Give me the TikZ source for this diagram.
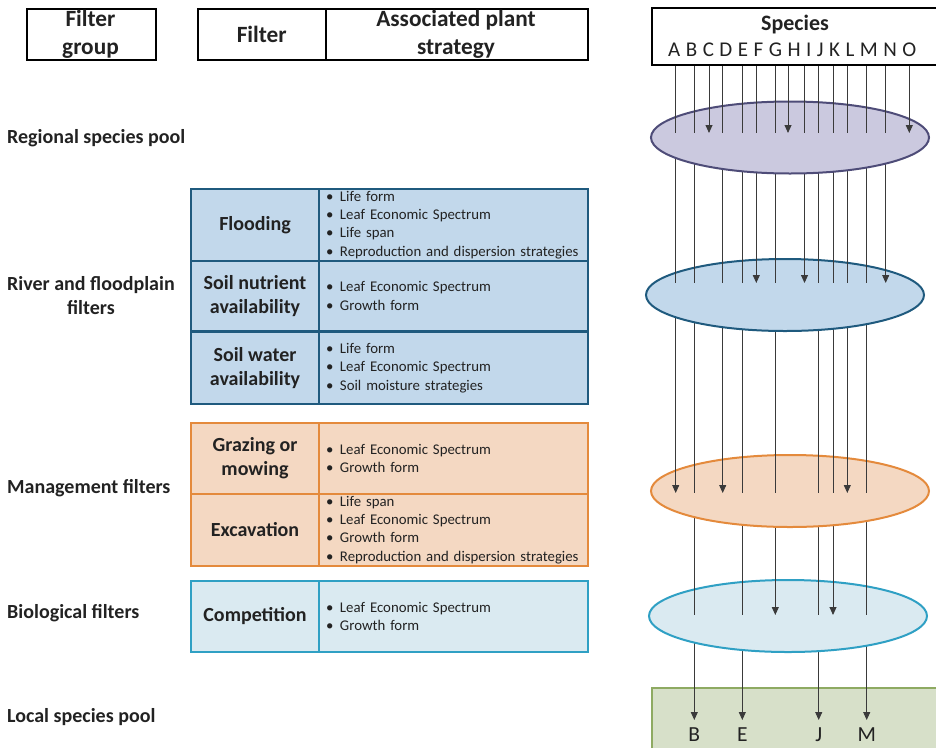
\documentclass[tikz,border=0pt]{standalone}
\usepackage{fontspec}
\setmainfont{Carlito}
\usetikzlibrary{shapes.geometric,arrows.meta}

\definecolor{rivfill}{HTML}{C2D8EB}
\definecolor{rivline}{HTML}{1F5A7E}
\definecolor{mgtfill}{HTML}{F4D8C2}
\definecolor{mgtline}{HTML}{E48A3C}
\definecolor{biofill}{HTML}{DAEAF1}
\definecolor{bioline}{HTML}{2FA0C4}
\definecolor{regfill}{HTML}{CBC9DF}
\definecolor{regline}{HTML}{4E4C78}
\definecolor{locfill}{HTML}{D7E0C9}
\definecolor{locline}{HTML}{8EAA62}
\definecolor{flow}{HTML}{3A3A3A}
\definecolor{txt}{HTML}{222222}

\newcommand\bl[1]{\makebox[14pt][l]{•}#1}

\tikzset{
  hdrbox/.style={draw=black, line width=1.5pt, rectangle, anchor=north west, inner sep=0pt},
  hdrtxt/.style={font=\bfseries\fontsize{23.3pt}{28pt}\selectfont, align=center, inner sep=0pt, text=txt},
  grouplbl/.style={font=\bfseries\fontsize{20pt}{24pt}\selectfont, align=center, anchor=west, inner sep=0pt, text=txt},
  namecell/.style={rectangle, line width=2pt, anchor=north west, minimum width=128pt,
    font=\bfseries\fontsize{20pt}{24pt}\selectfont, align=center, inner sep=0pt, text=txt},
  listcell/.style={rectangle, line width=2pt, anchor=north west, minimum width=269pt,
    text width=255pt, inner xsep=7pt, inner ysep=0pt,
    font=\fontsize{14.8pt}{18.3pt}\selectfont, align=left, text=txt},
  riv/.style={fill=rivfill, draw=rivline},
  mgt/.style={fill=mgtfill, draw=mgtline},
  bio/.style={fill=biofill, draw=bioline},
  pool/.style={ellipse, line width=2pt, minimum width=278pt, minimum height=72pt, inner sep=0pt},
  flowline/.style={draw=flow, line width=0.9pt},
  flowarrow/.style={draw=flow, line width=0.9pt, -{Triangle[length=8pt,width=7pt]}},
  letter/.style={font=\fontsize{21.5pt}{26pt}\selectfont, inner sep=0pt, anchor=base, text=txt}
}

\begin{document}
\begin{tikzpicture}[x=1pt,y=-1pt]
\useasboundingbox (0,0) rectangle (936,747);

% column headers
\node[hdrbox, minimum width=129pt, minimum height=51pt] (hgroup) at (26,8) {};
\node[hdrtxt] (hgrouptxt) at (90.5,34) {Filter\\group};
\node[hdrbox, minimum width=128pt, minimum height=51pt] (hfilter) at (197,8) {};
\node[hdrtxt] (hfiltertxt) at (hfilter.center) {Filter};
\node[hdrbox, minimum width=262pt, minimum height=51pt] (hstrat) at (325,8) {};
\node[hdrtxt] (hstrattxt) at (456,34) {Associated plant\\strategy};

% filter group labels
\node[grouplbl] (lreg) at (7,138) {Regional species pool};
\node[grouplbl] (lriv) at (7,296) {River and floodplain\\filters};
\node[grouplbl] (lmgt) at (7,488) {Management filters};
\node[grouplbl] (lbio) at (7,613) {Biological filters};
\node[grouplbl] (lloc) at (7,717) {Local species pool};

% river and floodplain filters
\node[namecell, riv, minimum height=72pt] (flood) at (190,188) {Flooding};
\node[listcell, riv, minimum height=72pt] (floodl) at (318,188)
  {\bl{Life form}\\\bl{Leaf Economic Spectrum}\\\bl{Life span}\\\bl{Reproduction and dispersion strategies}};
\node[namecell, riv, minimum height=70pt] (nutr) at (190,260) {Soil nutrient\\availability};
\node[listcell, riv, minimum height=70pt] (nutrl) at (318,260)
  {\bl{Leaf Economic Spectrum}\\\bl{Growth form}};
\node[namecell, riv, minimum height=72pt] (water) at (190,331) {Soil water\\availability};
\node[listcell, riv, minimum height=72pt] (waterl) at (318,331)
  {\bl{Life form}\\\bl{Leaf Economic Spectrum}\\\bl{Soil moisture strategies}};

% management filters
\node[namecell, mgt, minimum height=71pt] (graze) at (190,422) {Grazing or\\mowing};
\node[listcell, mgt, minimum height=71pt] (grazel) at (318,422)
  {\bl{Leaf Economic Spectrum}\\\bl{Growth form}};
\node[namecell, mgt, minimum height=72pt] (excav) at (190,493) {Excavation};
\node[listcell, mgt, minimum height=72pt] (excavl) at (318,493)
  {\bl{Life span}\\\bl{Leaf Economic Spectrum}\\\bl{Growth form}\\\bl{Reproduction and dispersion strategies}};

% biological filters
\node[namecell, bio, minimum height=71pt] (comp) at (190,580) {Competition};
\node[listcell, bio, minimum height=71pt] (compl) at (318,580)
  {\bl{Leaf Economic Spectrum}\\\bl{Growth form}};

% species track coordinates: level 0 is the species box,
% levels 1-4 the filter ellipses (in = arrow end, out = hidden start), 5 the local pool
\foreach \s/\x in {A/675.7,B/694.3,C/709,D/722.7,E/742.3,F/756.3,G/775.3,H/788,
                   I/804.5,J/818.7,K/833,L/847.3,M/866.7,N/885.7,O/909.3}{
  \coordinate (\s-0) at (\x,64);
  \coordinate (\s-1in) at (\x,133);   \coordinate (\s-1out) at (\x,137.5);
  \coordinate (\s-2in) at (\x,283);   \coordinate (\s-2out) at (\x,295);
  \coordinate (\s-3in) at (\x,493);   \coordinate (\s-3out) at (\x,491);
  \coordinate (\s-4in) at (\x,615);   \coordinate (\s-4out) at (\x,616);
  \coordinate (\s-5) at (\x,720);
}

% local species pool
\node[rectangle, fill=locfill, draw=locline, line width=2pt, anchor=north west,
      minimum width=300pt, minimum height=70pt, inner sep=0pt] (local) at (651,687) {};
\foreach \s in {B,E,J,M}{
  \draw[flowarrow] (\s-4out) -- (\s-5);
  \node[letter] (out\s) at ([yshift=-21.5pt]\s-5) {\s};
}

% biological filter ellipse
\node[pool, bio] (ebio) at (788,616) {};
\foreach \s in {B,E,J,M} \draw[flowline] (\s-3out) -- (\s-4in);
\foreach \s in {G,K} \draw[flowarrow] (\s-3out) -- (\s-4in);

% management filter ellipse
\node[pool, mgt] (emgt) at (790,491) {};
\foreach \s in {B,E,G,J,K,M} \draw[flowline] (\s-2out) -- (\s-3in);
\foreach \s in {A,D,L} \draw[flowarrow] (\s-2out) -- (\s-3in);

% river and floodplain ellipse
\node[pool, riv] (eriv) at (785,295) {};
\foreach \s in {A,B,D,E,G,J,K,L,M} \draw[flowline] (\s-1out) -- (\s-2in);
\foreach \s in {F,I,N} \draw[flowarrow] (\s-1out) -- (\s-2in);

% regional species pool ellipse
\node[pool, fill=regfill, draw=regline] (ereg) at (790,137.5) {};
\foreach \s in {A,B,D,E,F,G,I,J,K,L,M,N} \draw[flowline] (\s-0) -- (\s-1in);
\foreach \s in {C,H,O} \draw[flowarrow] (\s-0) -- (\s-1in);

% species header
\node[hdrbox, minimum width=300pt, minimum height=57pt] (species) at (651,7) {};
\node[font=\bfseries\fontsize{22pt}{26pt}\selectfont, inner sep=0pt, anchor=base, text=txt]
  (speciestxt) at (795,30) {Species};
\node[font=\fontsize{21pt}{26pt}\selectfont, inner sep=0pt, anchor=base west, text=txt]
  (speciesrow) at (668,56.7) {\spaceskip=5.5pt A B C D E F G H I J K L M N O};
\end{tikzpicture}
\end{document}
